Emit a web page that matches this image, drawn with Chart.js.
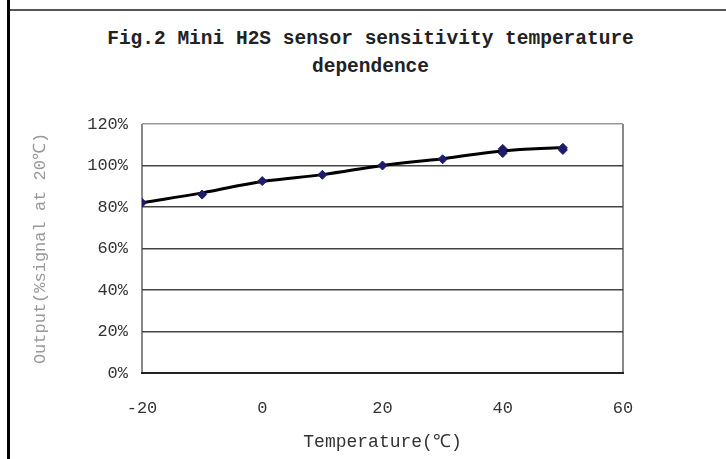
<!DOCTYPE html>
<html>
<head>
<meta charset="utf-8">
<script src="https://cdn.jsdelivr.net/npm/chart.js@4.4.1/dist/chart.umd.min.js"></script>
<style>
  html, body { margin: 0; padding: 0; background: #fff; }
  #wrap { position: relative; width: 726px; height: 459px; overflow: hidden; background: #fff; }
  #vline { position: absolute; left: 7px; top: 0; width: 3px; height: 459px; background: #000; }
  #hline { position: absolute; left: 10px; top: 9px; width: 716px; height: 2px; background: #555; }
  #title { position: absolute; left: 0; width: 741px; top: 25px; text-align: center;
           font: bold 19.5px "Liberation Mono", monospace; line-height: 28px; color: #222; }
  canvas { position: absolute; left: 0; top: 0; }
</style>
</head>
<body>
<div id="wrap">
  <div id="vline"></div>
  <div id="hline"></div>
  <div id="title">Fig.2 Mini H2S sensor sensitivity temperature<br>dependence</div>
  <canvas id="c" width="726" height="459"></canvas>
</div>
<script>
// Measured points (temperature °C, output % of signal at 20°C)
const temps = [-20, -10, 0, 10, 20, 30, 40, 40, 50, 50];
const outputs = [82, 86, 92.5, 95.5, 100, 103, 106, 108, 107.5, 108.5];
// Trend line
const lineTemps = [-20, -10, 0, 10, 20, 30, 40, 50];
const lineValues = [82, 86.8, 92.3, 95.6, 100, 103.3, 107, 108.7];
const xTicks = [-20, 0, 20, 40, 60];
const yTicks = [0, 20, 40, 60, 80, 100, 120];
const xTitle = 'Temperature(\u2103)';
const yTitle = 'Output(%signal at 20\u2103)';

const mono = '"Liberation Mono", monospace';

new Chart(document.getElementById('c'), {
  type: 'line',
  data: {
    datasets: [
      {
        label: 'trend',
        data: lineTemps.map((t, i) => ({ x: t, y: lineValues[i] })),
        borderColor: '#000',
        borderWidth: 3,
        tension: 0.4,
        pointRadius: 0,
        fill: false,
        order: 2
      },
      {
        label: 'measured',
        type: 'scatter',
        data: temps.map((t, i) => ({ x: t, y: outputs[i] })),
        pointStyle: 'rectRot',
        pointRadius: 4.5,
        backgroundColor: '#1c1c6b',
        borderColor: '#1c1c6b',
        borderWidth: 1,
        showLine: false,
        order: 1
      }
    ]
  },
  options: {
    responsive: false,
    animation: false,
    devicePixelRatio: 1,
    layout: { padding: { left: 26, right: 103, top: 124, bottom: 2 } },
    plugins: { legend: { display: false }, title: { display: false }, tooltip: { enabled: false } },
    scales: {
      x: {
        type: 'linear',
        min: -20, max: 60,
        afterBuildTicks: s => { s.ticks = xTicks.map(v => ({ value: v })); },
        afterFit: s => { s.height = 84; },
        ticks: { padding: 25, color: '#333', font: { family: mono, size: 17 }, maxRotation: 0 },
        grid: {
          drawTicks: false,
          color: ctx => (ctx.tick && (ctx.tick.value === -20 || ctx.tick.value === 60)) ? '#888' : 'rgba(0,0,0,0)',
          lineWidth: 2
        },
        border: { display: true, color: '#222', width: 2 },
        title: { display: true, text: xTitle, color: '#333', font: { family: mono, size: 18 }, padding: { top: 0, bottom: 4 } }
      },
      y: {
        min: 0, max: 120,
        afterBuildTicks: s => { s.ticks = yTicks.map(v => ({ value: v })); },
        afterFit: s => { s.width = 116; },
        ticks: { padding: 14, color: '#333', font: { family: mono, size: 17 }, callback: v => v + '%' },
        grid: {
          drawTicks: false,
          color: ctx => {
            const v = ctx.tick ? ctx.tick.value : null;
            if (v === 120) return '#999';
            if (v === 0) return '#222';
            return '#444';
          },
          lineWidth: 1.6
        },
        border: { display: false },
        title: { display: true, text: yTitle, color: '#999', font: { family: mono, size: 17 }, padding: { top: 4, bottom: 4 } }
      }
    }
  }
});
</script>
</body>
</html>
